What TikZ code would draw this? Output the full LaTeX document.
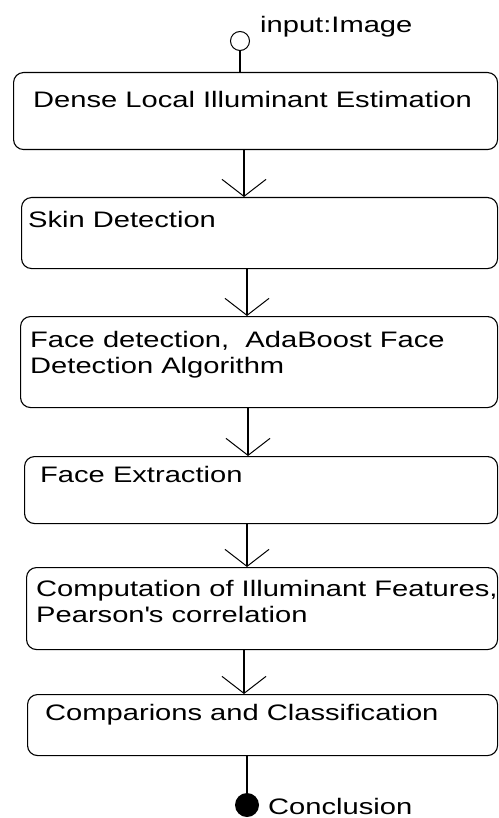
\documentclass[tikz,border=0pt]{standalone}
\usepackage{fontspec}
\setmainfont{Liberation Sans}[FakeStretch=1.3]
\usetikzlibrary{arrows.meta}
\begin{document}
\begin{tikzpicture}[x=1pt,y=-1pt,
  stepbox/.style={draw, line width=1.1pt, rounded corners=10pt, anchor=north west, inner sep=0pt},
  lbl/.style={anchor=base west, inner sep=0pt, align=left, font=\fontsize{22.4}{26}\selectfont},
  flow/.style={line width=1.1pt, -{Straight Barb[length=17pt,width=44pt,line width=1pt]}},
  plain/.style={line width=1.1pt}]
\useasboundingbox (0,0) rectangle (498,818);
% boxes
\node[stepbox, minimum width=484pt, minimum height=77pt] (b1) at (13,72) {};
\node[stepbox, minimum width=476pt, minimum height=71pt] (b2) at (21,197) {};
\node[stepbox, minimum width=477pt, minimum height=91pt] (b3) at (20,316) {};
\node[stepbox, minimum width=473pt, minimum height=67pt] (b4) at (24,456) {};
\node[stepbox, minimum width=471pt, minimum height=82pt] (b5) at (26,567) {};
\node[stepbox, minimum width=470pt, minimum height=61pt] (b6) at (27,694) {};
% texts (base anchor = last line of a multi-line text)
\node[lbl] (t1) at (33,108) {Dense Local Illuminant Estimation};
\node[lbl] (t2) at (28,228) {Skin Detection};
\node[lbl] (t3) at (30,373) {Face detection,\ \ AdaBoost Face\\Detection Algorithm};
\node[lbl] (t4) at (40,482) {Face Extraction};
\node[lbl] (t5) at (36,622) {Computation of Illuminant Features,\\Pearson\textquotesingle s correlation};
\node[lbl] (t6) at (45,720) {Comparions and Classification};
% start and end
\node[draw, circle, line width=1pt, minimum size=19pt, inner sep=0pt] (init) at (240,41) {};
\node[lbl] (tin) at (260,33) {input:Image};
\node[fill, circle, minimum size=24pt, inner sep=0pt] (fin) at (247,805) {};
\node[lbl] (tout) at (268,814) {Conclusion};
% x positions of connectors
\coordinate (c1) at (244,0);
\coordinate (c2) at (247,0);
\coordinate (c3) at (248,0);
\coordinate (c4) at (247,0);
\coordinate (c5) at (244,0);
\coordinate (c6) at (247,0);
% connectors
\draw[plain] (init.south) -- (init.south |- b1.north);
\draw[flow] (b1.south -| c1) -- (b2.north -| c1);
\draw[flow] (b2.south -| c2) -- (b3.north -| c2);
\draw[flow] (b3.south -| c3) -- (b4.north -| c3);
\draw[flow] (b4.south -| c4) -- (b5.north -| c4);
\draw[flow] (b5.south -| c5) -- (b6.north -| c5);
\draw[plain] (b6.south -| c6) -- (fin.north);
\end{tikzpicture}
\end{document}
